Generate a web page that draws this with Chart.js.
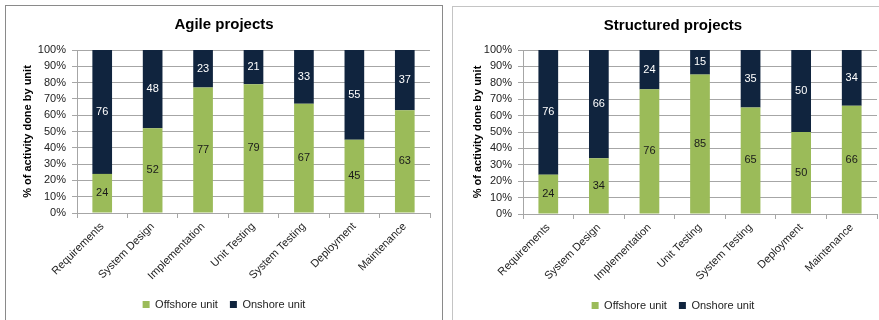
<!DOCTYPE html>
<html>
<head>
<meta charset="utf-8">
<script src="https://cdn.jsdelivr.net/npm/chart.js@4/dist/chart.umd.min.js"></script>
<style>
  html, body { margin:0; padding:0; }
  body { width:879px; height:320px; overflow:hidden; background:#fff; position:relative; font-family:"Liberation Sans", Arial, sans-serif; }
  .box { position:absolute; box-sizing:border-box; background:#fff; }
  #b1 { left:5px; top:5px; width:438px; height:340px; border:1px solid #8a8a8a; }
  #b2 { left:452px; top:6px; width:440px; height:340px; border:1px solid #c4c4c4; }
  canvas { position:absolute; }
  #c1 { left:6px; top:6px; }
  #c2 { left:453px; top:7px; }
</style>
</head>
<body>
<div class="box" id="b1"></div>
<div class="box" id="b2"></div>
<canvas id="c1" width="435" height="314"></canvas>
<canvas id="c2" width="426" height="314"></canvas>
<script>
// ---- data ----
const categories = ['Requirements', 'System Design', 'Implementation', 'Unit Testing', 'System Testing', 'Deployment', 'Maintenance'];
const seriesNames = ['Offshore unit', 'Onshore unit'];
const agileOffshore = [24, 52, 77, 79, 67, 45, 63];
const agileOnshore = [76, 48, 23, 21, 33, 55, 37];
const structuredOffshore = [24, 34, 76, 85, 65, 50, 66];
const structuredOnshore = [76, 66, 24, 15, 35, 50, 34];
const chartTitles = ['Agile projects', 'Structured projects'];
const yAxisTitle = '% of activity done by unit';
const yTickValues = [0, 10, 20, 30, 40, 50, 60, 70, 80, 90, 100];

const GREEN = '#9BBB59';
const NAVY = '#10243E';
const GRID = '#a6a6a6';
const FONT = '"Liberation Sans", Arial, sans-serif';

const valueLabels = {
  id: 'valueLabels',
  afterDatasetsDraw(chart) {
    const ctx = chart.ctx;
    ctx.save();
    ctx.font = '11px ' + FONT;
    ctx.textAlign = 'center';
    ctx.textBaseline = 'middle';
    chart.data.datasets.forEach((ds, di) => {
      const meta = chart.getDatasetMeta(di);
      meta.data.forEach((el, i) => {
        const v = ds.data[i];
        ctx.fillStyle = di === 0 ? '#1a1a1a' : '#ffffff';
        ctx.fillText(String(v), el.x, (el.y + el.base) / 2);
      });
    });
    ctx.restore();
  }
};

function makeChart(id, title, offshore, onshore, cfg) {
  return new Chart(document.getElementById(id), {
    type: 'bar',
    data: {
      labels: categories,
      datasets: [
        { label: seriesNames[0], data: offshore, backgroundColor: GREEN, borderWidth: 0 },
        { label: seriesNames[1], data: onshore, backgroundColor: NAVY, borderWidth: 0 }
      ]
    },
    options: {
      responsive: false,
      animation: false,
      devicePixelRatio: 1,
      categoryPercentage: 1,
      barPercentage: 0.39,
      layout: { padding: { left: cfg.padLeft, right: cfg.padRight, top: 0, bottom: 0 } },
      plugins: {
        tooltip: { enabled: false },
        title: {
          display: true, text: title, color: '#000',
          font: { family: FONT, size: 15, weight: 'bold' },
          padding: { top: 10, bottom: cfg.titleBottom }
        },
        legend: {
          position: 'bottom',
          labels: {
            boxWidth: 7, boxHeight: 7, padding: 12, color: '#222',
            font: { family: FONT, size: 11 }
          }
        }
      },
      scales: {
        x: {
          stacked: true,
          offset: true,
          grid: { display: true, drawOnChartArea: false, drawTicks: true, tickLength: 5, color: GRID, offset: true },
          border: { display: true, color: GRID },
          ticks: { minRotation: 45, maxRotation: 45, autoSkip: false, color: '#222', font: { family: FONT, size: 11 }, padding: 2 },
          afterFit: s => { s.height = cfg.xHeight; }
        },
        y: {
          stacked: true,
          min: 0, max: 100,
          afterBuildTicks: s => { s.ticks = yTickValues.map(v => ({ value: v })); },
          grid: { color: GRID, tickLength: 5 },
          border: { display: true, color: GRID },
          ticks: { autoSkip: false, color: '#222', padding: 6, font: { family: FONT, size: 11 }, callback: v => v + '%' },
          title: {
            display: true, text: yAxisTitle, color: '#000',
            font: { family: FONT, size: 11, weight: 'bold' },
            padding: { top: cfg.yTitlePad, bottom: 0 }
          },
          afterFit: s => { s.width = cfg.yWidth; }
        }
      }
    },
    plugins: [valueLabels]
  });
}

makeChart('c1', chartTitles[0], agileOffshore, agileOnshore,
  { padLeft: 12, padRight: 11, yWidth: 59, yTitlePad: 3, titleBottom: 16, xHeight: 74 });
makeChart('c2', chartTitles[1], structuredOffshore, structuredOnshore,
  { padLeft: 16, padRight: 2, yWidth: 54, yTitlePad: 2, titleBottom: 15, xHeight: 74 });
</script>
</body>
</html>
